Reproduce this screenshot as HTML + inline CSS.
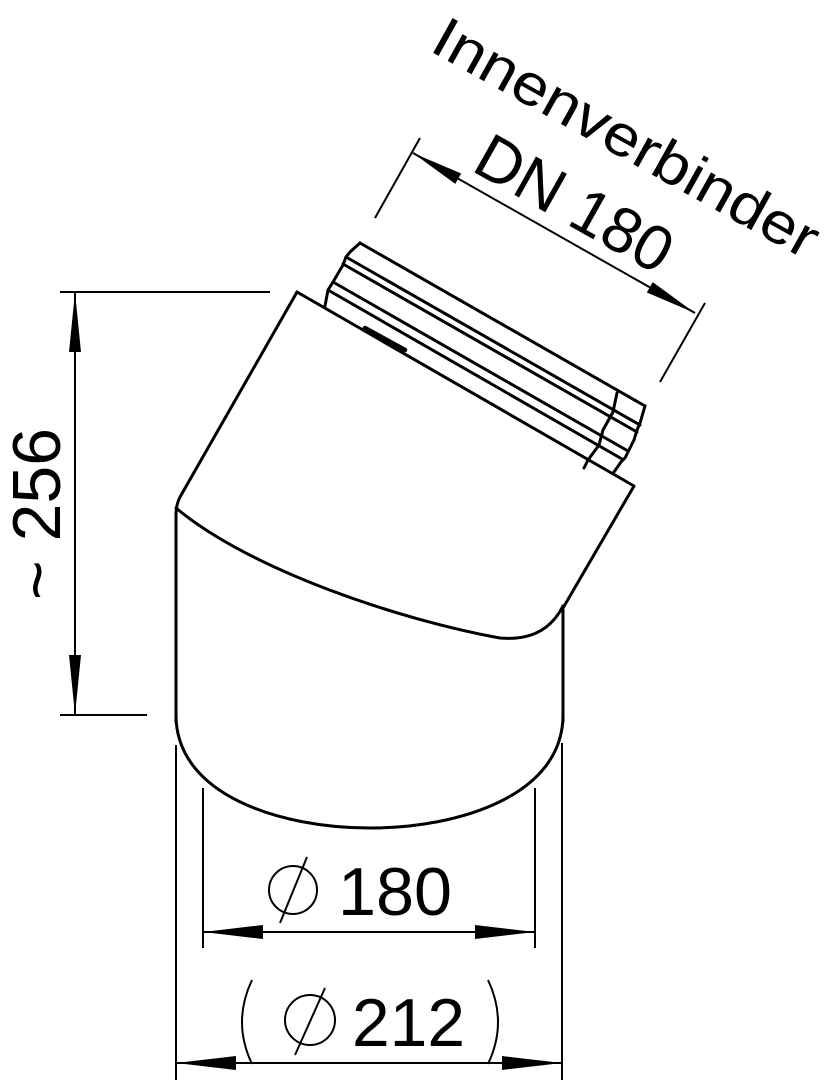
<!DOCTYPE html>
<html><head><meta charset="utf-8"><style>
html,body{margin:0;padding:0;background:#fff}
svg{display:block}
text{font-family:"Liberation Sans",sans-serif;fill:#000}
</style></head><body>
<svg width="837" height="1080" viewBox="0 0 837 1080" xmlns="http://www.w3.org/2000/svg">
<g fill="none" stroke="#000" stroke-width="3" stroke-linejoin="round" stroke-linecap="round">
  <!-- upper body -->
  <path d="M297,292 L634,486 L563,608"/>
  <path d="M297,292 L180,497 Q176,505 176,515 L176,722"/>
  <!-- seam -->
  <path d="M176,508 C250,570 400,620 500,638 Q545,642 563,606"/>
  <!-- lower body -->
  <path d="M563,606 L563,722"/>
  <path d="M176,715 C176,795 280,828 370,828 C460,828 563,795 563,715"/>
  <!-- thread -->
  <path d="M360,243 L645,406"/>
  <path d="M346,257 L640,425"/>
  <path d="M343,264 L637,432"/>
  <path d="M333,282 L628,451"/>
  <path d="M328,290 L622,459"/>
  <path d="M325,306 L328,290 L333,282 L343,265 L346,257 L350,252 L360,243"/>
  <path d="M645,406 L640,423 L637,430 L634,440 L628,452 L625,458 L621,462 L614,472"/>
  <path d="M617,393 L613,412 L603,430 L599,445 L588,460 L584,468"/>
  <path d="M365,328 L405,350" stroke-width="4.5"/>
</g>
<g fill="none" stroke="#000" stroke-width="2">
  <!-- left dim -->
  <line x1="60" y1="292" x2="270" y2="292"/>
  <line x1="60" y1="715" x2="147" y2="715"/>
  <line x1="75" y1="292" x2="75" y2="715"/>
  <!-- bottom dims -->
  <line x1="203" y1="788" x2="203" y2="948"/>
  <line x1="535" y1="788" x2="535" y2="948"/>
  <line x1="203" y1="932" x2="535" y2="932"/>
  <line x1="176" y1="745" x2="176" y2="1080"/>
  <line x1="562" y1="743" x2="562" y2="1080"/>
  <line x1="176" y1="1063" x2="562" y2="1063"/>
  <!-- top dim -->
  <line x1="413" y1="153" x2="695" y2="313"/>
  <line x1="375" y1="218" x2="420" y2="138"/>
  <line x1="660" y1="382" x2="705" y2="303"/>
  <!-- diameter symbols -->
  <circle cx="293" cy="890" r="24"/>
  <line x1="280" y1="923" x2="307" y2="857"/>
  <circle cx="310" cy="1020" r="25"/>
  <line x1="295" y1="1055" x2="325" y2="988"/>
  <path d="M252,980 Q232,1022 252,1064"/>
  <path d="M488,980 Q508,1022 488,1064"/>
</g>
<g fill="#000" stroke="none">
  <polygon points="75,292 69,352 81,352"/>
  <polygon points="75,715 69,655 81,655"/>
  <polygon points="203,932 263,925 263,939"/>
  <polygon points="535,932 475,925 475,939"/>
  <polygon points="176,1063 236,1056 236,1070"/>
  <polygon points="562,1063 502,1056 502,1070"/>
  <g transform="translate(413,153) rotate(29.6)"><polygon points="0,0 52,-6 52,6"/></g>
  <g transform="translate(695,313) rotate(29.6)"><polygon points="0,0 -52,-6 -52,6"/></g>
</g>
<text x="338" y="915" font-size="68" textLength="114" lengthAdjust="spacingAndGlyphs">180</text>
<text x="352" y="1046" font-size="68" textLength="113" lengthAdjust="spacingAndGlyphs">212</text>
<text transform="translate(60,600) rotate(-90)" font-size="68" textLength="172" lengthAdjust="spacingAndGlyphs">~ 256</text>
<text transform="translate(428,50) rotate(29.1)" font-size="58" textLength="432" lengthAdjust="spacingAndGlyphs">Innenverbinder</text>
<text transform="translate(470,170) rotate(29.3)" font-size="64" textLength="215" lengthAdjust="spacingAndGlyphs">DN 180</text>
</svg>
</body></html>
